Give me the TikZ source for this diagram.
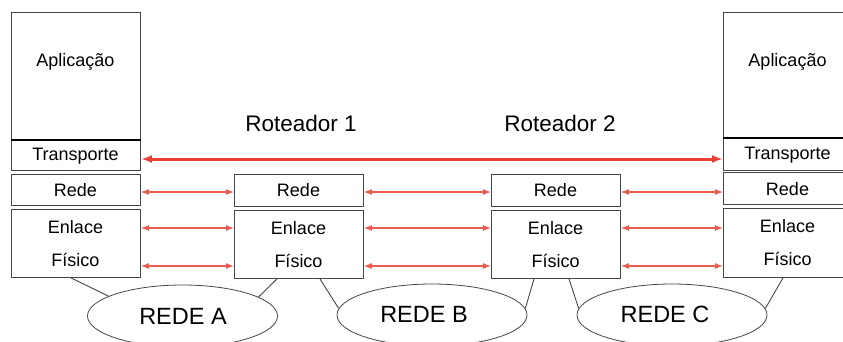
\documentclass[tikz,border=0pt]{standalone}
\usepackage{fontspec}
\setmainfont{Liberation Sans}
\usetikzlibrary{arrows.meta,shapes.geometric}
\definecolor{linkred}{RGB}{232,62,52}
\definecolor{boxgray}{RGB}{70,70,70}
\begin{document}
\begin{tikzpicture}[x=1pt,y=-1pt,
    layer/.style={draw=boxgray,line width=0.9pt,minimum width=129pt,anchor=north west,inner sep=0pt},
    txt/.style={font=\fontsize{18pt}{20pt}\selectfont,inner sep=0pt},
    big/.style={font=\fontsize{22.5pt}{25pt}\selectfont,inner sep=0pt},
    net/.style={draw=boxgray,line width=0.8pt,ellipse,minimum width=190pt,minimum height=62pt,inner sep=0pt},
    link/.style={linkred!85,line width=1.1pt,{Latex[length=8pt,width=6pt]}-{Latex[length=8pt,width=6pt]}},
    tlink/.style={linkred,line width=3pt,{Latex[length=11pt,width=8pt]}-{Latex[length=11pt,width=8pt]}},
    wire/.style={draw=boxgray,line width=0.9pt}]
    \useasboundingbox (0,0) rectangle (843,341);
    % host esquerdo
    \node[layer,minimum height=128pt] (h1app) at (11,12) {};
    \node[layer,minimum height=30pt] (h1trans) at (11,140) {};
    \node[layer,minimum height=31pt] (h1rede) at (11,174) {};
    \node[layer,minimum height=68pt] (h1enl) at (11,209) {};
    \draw[line width=1.4pt] (h1trans.north west) -- (h1trans.north east);
    % roteador 1
    \node[layer,minimum height=32pt] (r1rede) at (234,174) {};
    \node[layer,minimum height=68pt] (r1enl) at (234,210) {};
    % roteador 2
    \node[layer,minimum height=32pt] (r2rede) at (491,174) {};
    \node[layer,minimum height=68pt] (r2enl) at (491,210) {};
    % host direito (cortado na borda)
    \node[layer,minimum width=150pt,minimum height=126pt] (h2app) at (723,12) {};
    \node[layer,minimum width=150pt,minimum height=32pt] (h2trans) at (723,138) {};
    \node[layer,minimum width=150pt,minimum height=32pt] (h2rede) at (723,172) {};
    \node[layer,minimum width=150pt,minimum height=69pt] (h2enl) at (723,208) {};
    \draw[line width=1.4pt] (h2trans.north west) -- (h2trans.north east);
    % textos
    \node[txt] (h1appt) at (75.5,62) {Aplicação};
    \node[txt] (h1transt) at (75.5,156) {Transporte};
    \node[txt] (h1redet) at (75.5,190) {Rede};
    \node[txt] (h1enlt) at (75.5,227) {Enlace};
    \node[txt] (h1fist) at (75.5,260) {Físico};
    \node[txt] (r1redet) at (298.5,190) {Rede};
    \node[txt] (r1enlt) at (298.5,228) {Enlace};
    \node[txt] (r1fist) at (298.5,261) {Físico};
    \node[txt] (r2redet) at (555.5,190) {Rede};
    \node[txt] (r2enlt) at (555.5,228) {Enlace};
    \node[txt] (r2fist) at (555.5,261) {Físico};
    \node[txt] (h2appt) at (787.5,62) {Aplicação};
    \node[txt] (h2transt) at (787.5,155) {Transporte};
    \node[txt] (h2redet) at (787.5,189) {Rede};
    \node[txt] (h2enlt) at (787.5,226) {Enlace};
    \node[txt] (h2fist) at (787.5,259) {Físico};
    \node[big] (rot1) at (301,123) {Roteador 1};
    \node[big] (rot2) at (560,123) {Roteador 2};
    % redes
    \node[net] (netA) at (182.5,316) {};
    \node[net] (netB) at (432,315) {};
    \node[net] (netC) at (672,315) {};
    \node[big,font=\fontsize{23.5pt}{26pt}\selectfont] (netAt) at (183,316) {REDE A};
    \node[big,font=\fontsize{23.5pt}{26pt}\selectfont] (netBt) at (424,314) {REDE B};
    \node[big,font=\fontsize{23.5pt}{26pt}\selectfont] (netCt) at (665,314) {REDE C};
    % ligacoes
    \draw[tlink] (h1trans.east |- 0,159) -- (h2trans.west |- 0,159);
    \draw[link] (h1rede.east |- 0,192) -- (r1rede.west |- 0,192);
    \draw[link] (h1enl.east |- 0,228) -- (r1enl.west |- 0,228);
    \draw[link] (h1enl.east |- 0,266) -- (r1enl.west |- 0,266);
    \draw[link] (r1rede.east |- 0,192) -- (r2rede.west |- 0,192);
    \draw[link] (r1enl.east |- 0,228) -- (r2enl.west |- 0,228);
    \draw[link] (r1enl.east |- 0,266) -- (r2enl.west |- 0,266);
    \draw[link] (r2rede.east |- 0,192) -- (h2rede.west |- 0,192);
    \draw[link] (r2enl.east |- 0,228) -- (h2enl.west |- 0,228);
    \draw[link] (r2enl.east |- 0,266) -- (h2enl.west |- 0,266);
    \draw[wire] ([xshift=60pt]h1enl.south west) -- (netA.165);
    \draw[wire] ([xshift=43pt]r1enl.south west) -- (netA.14);
    \draw[wire] ([xshift=86pt]r1enl.south west) -- (netB.176);
    \draw[wire] ([xshift=43pt]r2enl.south west) -- (netB.4);
    \draw[wire] ([xshift=78pt]r2enl.south west) -- (netC.176);
    \draw[wire] ([xshift=60pt]h2enl.south west) -- (netC.4);
\end{tikzpicture}
\end{document}
